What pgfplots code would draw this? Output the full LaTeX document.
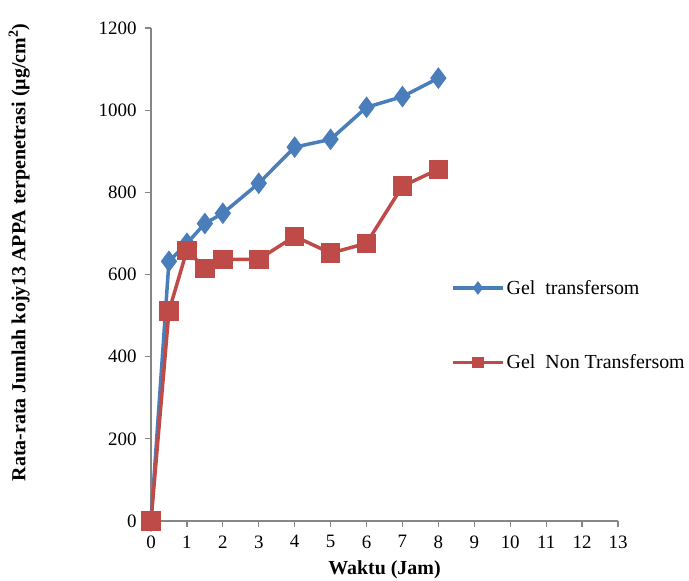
\documentclass[border=0pt]{standalone}
\usepackage{fontspec}
\setmainfont{Liberation Serif}
\usepackage{pgfplots}
\pgfplotsset{compat=1.18}
\definecolor{serblue}{HTML}{4A7EBB}
\definecolor{serred}{HTML}{BE4B48}
\definecolor{axgray}{HTML}{868686}
\begin{document}
\begin{tikzpicture}
\begin{axis}[
    name=ax,
    scale only axis,
    width=467bp, height=493bp,
    xmin=0, xmax=13, ymin=0, ymax=1200,
    xtick={0,1,...,13},
    ytick={0,200,...,1200},
    axis x line=bottom, axis y line=left,
    axis line style={axgray, line width=1.2bp, -},
    tick style={axgray, line width=1.2bp},
    tick align=outside,
    major tick length=6bp,
    clip=false,
    /pgf/number format/assume math mode=true,
    /pgf/number format/1000 sep={},
    tick label style={font=\fontsize{19}{21}\selectfont},
    xticklabel style={yshift=-5bp},
    yticklabel style={xshift=-5bp},
    xlabel={\textbf{Waktu (Jam)}},
    ylabel={\textbf{Rata-rata Jumlah kojy13 APPA terpenetrasi (µg/cm\textsuperscript{2})}},
    label style={font=\fontsize{20}{22}\selectfont},
    xlabel style={yshift=-6bp},
    ylabel style={xshift=22bp, yshift=62bp},
    legend style={at={(rel axis cs:0.636,0.505)}, anchor=north west, draw=none, fill=none,
        font=\fontsize{20}{22}\selectfont, row sep=55bp, yshift=-4bp},
    legend cell align=left,
    legend image code/.code={\draw[mark size=4bp, mark repeat=2, mark phase=2]
        plot coordinates {(0bp,0bp) (25bp,0bp) (50bp,0bp)};},
]
\addplot[serblue, line width=3.5bp, mark=diamond*, mark size=8bp, mark options={solid}]
coordinates {(0,0) (0.5,632) (1,676) (1.5,724) (2,749) (3,822) (4,910) (5,929) (6,1007) (7,1033) (8,1078)};
\addlegendentry{Gel\ \ transfersom}
\addplot[serred, line width=3.5bp, mark=square*, mark size=8bp, mark options={solid}]
coordinates {(0,0) (0.5,511) (1,659) (1.5,615) (2,637) (3,637) (4,693) (5,652) (6,676) (7,815) (8,856)};
\addlegendentry{Gel\ \ Non Transfersom}
\end{axis}
\pgfresetboundingbox
\path[use as bounding box] ([shift={(-151bp,-60bp)}]ax.south west) rectangle ([shift={(71bp,28bp)}]ax.north east);
\end{tikzpicture}
\end{document}
